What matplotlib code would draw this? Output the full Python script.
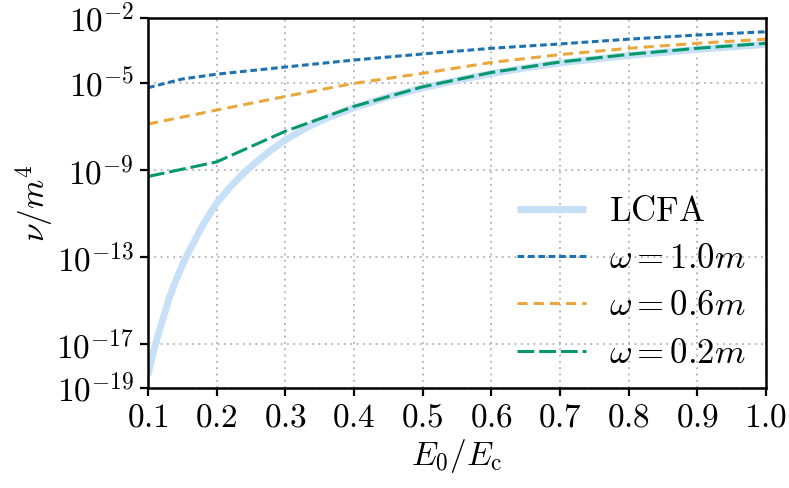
import numpy as np
import matplotlib
matplotlib.use("Agg")
import matplotlib.pyplot as plt

plt.rcParams['mathtext.fontset'] = 'cm'
plt.rcParams['font.family'] = 'serif'
plt.rcParams['font.serif'] = ['DejaVu Serif']

# values (log10 of nu/m^4)
eps_lcfa = [0.100, 0.105, 0.110, 0.115, 0.120, 0.130, 0.140, 0.150, 0.160, 0.170,
            0.180, 0.190, 0.200, 0.220, 0.240, 0.260, 0.280, 0.300, 0.330, 0.360,
            0.400, 0.450, 0.500, 0.550, 0.600, 0.650, 0.700, 0.800, 0.900, 1.000]
log_lcfa = [-18.4, -17.7, -17.1, -16.55, -16.0, -14.95, -14.1, -13.35, -12.7, -12.1,
            -11.5, -11.0, -10.5, -9.75, -9.1, -8.55, -8.05, -7.6, -7.05, -6.6,
            -6.12, -5.62, -5.21, -4.86, -4.55, -4.29, -4.06, -3.72, -3.44, -3.21]

eps_w10 = [0.10, 0.15, 0.20, 0.30, 0.40, 0.50, 0.60, 0.70, 0.80, 0.90, 1.00]
log_w10 = [-5.20, -4.80, -4.58, -4.25, -3.93, -3.65, -3.39, -3.19, -2.97, -2.78, -2.63]

eps_w = [0.1, 0.2, 0.3, 0.4, 0.5, 0.6, 0.7, 0.8, 0.9, 1.0]
log_w06 = [-6.87, -6.23, -5.60, -5.00, -4.54, -4.04, -3.68, -3.39, -3.16, -2.97]
log_w02 = [-9.28, -8.61, -7.20, -6.06, -5.16, -4.50, -4.02, -3.67, -3.39, -3.16]

xticks = [0.1, 0.2, 0.3, 0.4, 0.5, 0.6, 0.7, 0.8, 0.9, 1.0]
yexps = [-19, -17, -13, -9, -5, -2]

fig = plt.figure(figsize=(7.89, 4.88), dpi=100)
ax = fig.add_axes([0.1876, 0.2049, 0.7832, 0.7581])

ax.plot(eps_lcfa, 10.0 ** np.array(log_lcfa), color='#c6e0f8', lw=5.0,
        solid_capstyle='butt', label=r'$\mathrm{LCFA}$')
ax.plot(eps_w10, 10.0 ** np.array(log_w10), color='#1f72b0', lw=2.2,
        dashes=(2.2, 1.2), label=r'$\omega = 1.0m$')
ax.plot(eps_w, 10.0 ** np.array(log_w06), color='#eba63c', lw=2.2,
        dashes=(3.3, 2.0), label=r'$\omega = 0.6m$')
ax.plot(eps_w, 10.0 ** np.array(log_w02), color='#05986a', lw=2.2,
        dashes=(5.5, 1.6), label=r'$\omega = 0.2m$')

ax.set_yscale('log')
ax.set_xlim(0.1, 1.0)
ax.set_ylim(1e-19, 1e-2)

ax.set_xticks(xticks)
ax.set_xticklabels([r'$%.1f$' % v for v in xticks])
ax.set_yticks([10.0 ** e for e in yexps])
ax.set_yticklabels([r'$10^{%d}$' % e for e in yexps])
ax.yaxis.set_minor_locator(matplotlib.ticker.NullLocator())

ax.tick_params(direction='out', length=6, width=1.6, labelsize=24, pad=4)
for s in ax.spines.values():
    s.set_linewidth(1.8)

ax.grid(True, color='#b0b0b0', linestyle=(0, (1, 2.5)), linewidth=1.3)

ax.set_xlabel(r'$E_0/E_\mathrm{c}$', fontsize=24, labelpad=2)
ax.set_ylabel(r'$\nu/m^4$', fontsize=24, labelpad=0)

ax.legend(loc='lower right', bbox_to_anchor=(0.989, 0.012), frameon=False,
          fontsize=25, handlelength=2.0, handletextpad=0.65,
          labelspacing=0.38, borderaxespad=0.0)

fig.savefig('out.png', dpi=100)
